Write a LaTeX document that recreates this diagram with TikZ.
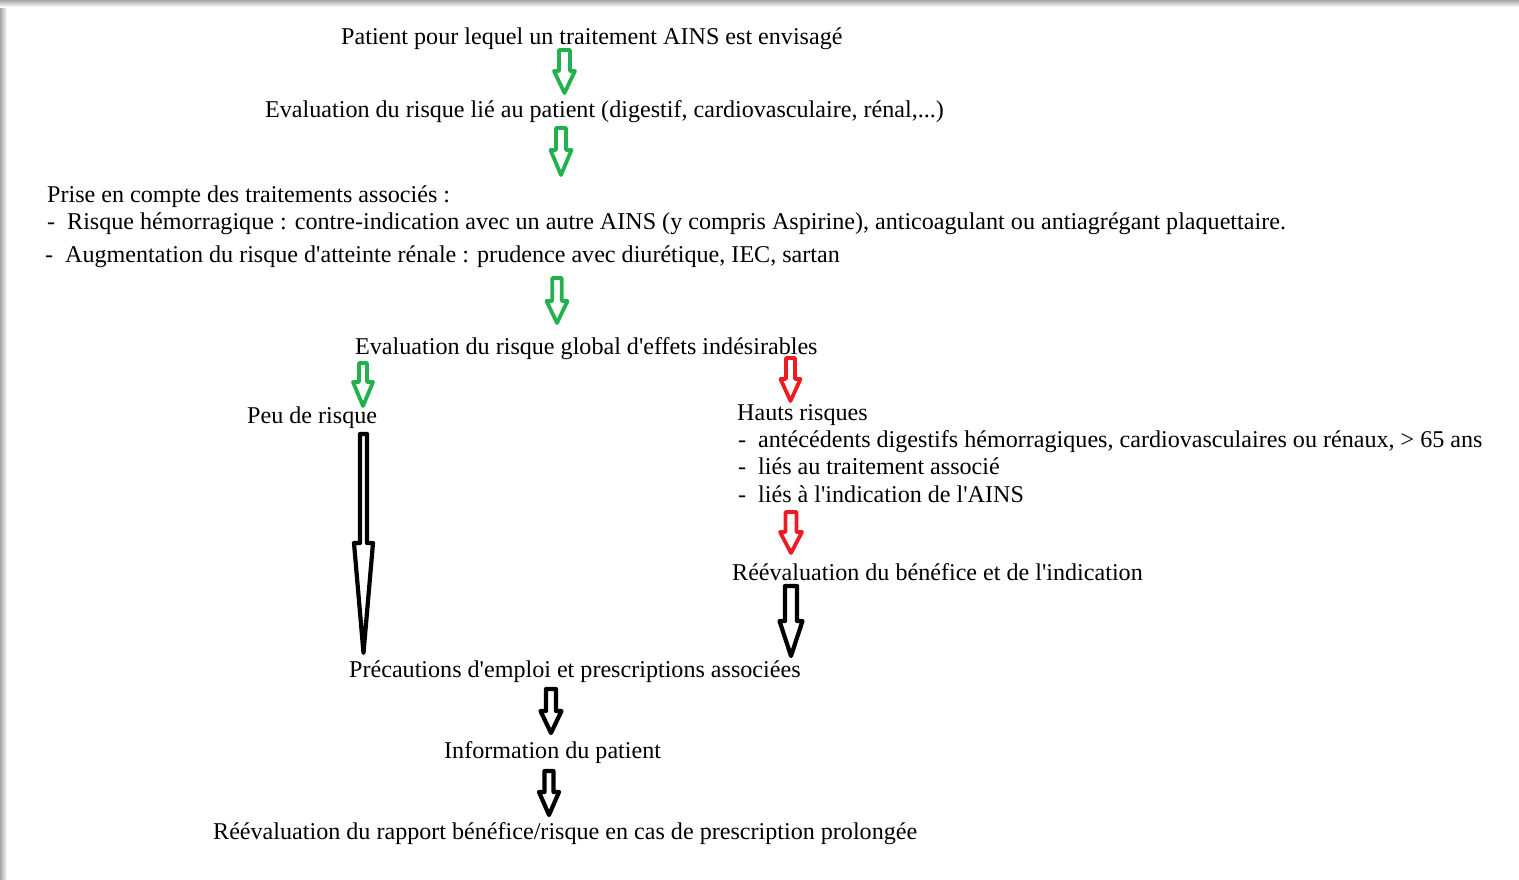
\documentclass[tikz,border=0pt]{standalone}
\usepackage{fontspec}
\setmainfont{Liberation Serif}[Ligatures=TeXOff]
\usepackage{tikz}
\usetikzlibrary{calc,positioning}
\definecolor{paintgreen}{RGB}{34,177,76}
\definecolor{paintred}{RGB}{237,28,36}
\tikzset{x=1pt,y=-1pt}
\tikzset{txt/.style={anchor=base west, inner sep=0pt, font=\fontsize{24.1}{28}\selectfont}}
\tikzset{greenarrow/.style={draw=paintgreen, line width=3.8pt, line join=round}}
\tikzset{redarrow/.style={draw=paintred, line width=3.8pt, line join=round}}
\tikzset{blackarrow/.style={draw=black, line width=4.2pt, line join=round}}
% hollow block arrow: style, top, tip, shaft half width, head half width, head length
\newcommand\blockarrow[6]{%
  \draw[#1] let \p1=(#2), \p2=(#3) in
    (\x1-#4pt,\y1) -- (\x1-#4pt,\y2+#6pt) -- (\x1-#5pt,\y2+#6pt) -- (\x2,\y2)
    -- (\x1+#5pt,\y2+#6pt) -- (\x1+#4pt,\y2+#6pt) -- (\x1+#4pt,\y1) -- cycle;}

\begin{document}
\begin{tikzpicture}
  \useasboundingbox (0,0) rectangle (1519,879);
  % window shadow
  \shade[left color=black!35, right color=white] (0,0) rectangle (7,879);
  \shade[top color=black!35, bottom color=white] (0,0) rectangle (1519,7);

  \node[txt] (patient) at (341,44) {Patient pour lequel un traitement AINS est envisagé};
  \node[txt] (evalpat) at (265,117) {Evaluation du risque lié au patient (digestif, cardiovasculaire, rénal,...)};
  \node[txt] (prise) at (47,202) {Prise en compte des traitements associés :};
  \node[txt] (hemo) at (47,229) {-\hspace{12pt}Risque hémorragique : contre-indication avec un autre AINS (y compris Aspirine), anticoagulant ou antiagrégant plaquettaire.};
  \node[txt] (renal) at (45,262) {-\hspace{12pt}Augmentation du risque d'atteinte rénale : prudence avec diurétique, IEC, sartan};
  \node[txt] (global) at (355,354) {Evaluation du risque global d'effets indésirables};
  \node[txt] (peu) at (247,423) {Peu de risque};
  \node[txt] (hauts) at (737,420) {Hauts risques};
  \node[txt] (ante) at (738,447) {-\hspace{12pt}antécédents digestifs hémorragiques, cardiovasculaires ou rénaux, > 65 ans};
  \node[txt] (trait) at (738,474) {-\hspace{12pt}liés au traitement associé};
  \node[txt] (indic) at (738,502) {-\hspace{12pt}liés à l'indication de l'AINS};
  \node[txt] (reeval) at (732,580) {Réévaluation du bénéfice et de l'indication};
  \node[txt] (precau) at (349,677) {Précautions d'emploi et prescriptions associées};
  \node[txt] (info) at (444,758) {Information du patient};
  \node[txt] (rapport) at (213,839) {Réévaluation du rapport bénéfice/risque en cas de prescription prolongée};

  % arrow ends
  \coordinate (a1) at (564.5,50);  \coordinate (a1t) at (564.5,93);
  \coordinate (a2) at (561,128);   \coordinate (a2t) at (561,175);
  \coordinate (a3) at (557,278);   \coordinate (a3t) at (557,323);
  \coordinate (a4) at (363,363);   \coordinate (a4t) at (363,406);
  \coordinate (a5) at (790.5,358); \coordinate (a5t) at (790.5,401);
  \coordinate (a6) at (363.5,434); \coordinate (a6t) at (363.5,653);
  \coordinate (a7) at (791,512);   \coordinate (a7t) at (791,553);
  \coordinate (a8) at (791,586);   \coordinate (a8t) at (791,656);
  \coordinate (a9) at (551,689);   \coordinate (a9t) at (551,733);
  \coordinate (a10) at (549,771);  \coordinate (a10t) at (549,815);

  \blockarrow{greenarrow}{a1}{a1t}{5.5}{10.5}{22}
  \blockarrow{greenarrow}{a2}{a2t}{5}{10.5}{25}
  \blockarrow{greenarrow}{a3}{a3t}{4.8}{10.5}{22}
  \blockarrow{greenarrow}{a4}{a4t}{4}{10}{24}
  \blockarrow{redarrow}{a5}{a5t}{4.5}{10}{22}
  \blockarrow{blackarrow}{a6}{a6t}{3.5}{9.5}{110}
  \blockarrow{redarrow}{a7}{a7t}{5.5}{11}{21}
  \blockarrow{blackarrow}{a8}{a8t}{6}{11.5}{35}
  \blockarrow{blackarrow}{a9}{a9t}{5}{10.5}{22}
  \blockarrow{blackarrow}{a10}{a10t}{4.5}{10}{23}
\end{tikzpicture}
\end{document}
